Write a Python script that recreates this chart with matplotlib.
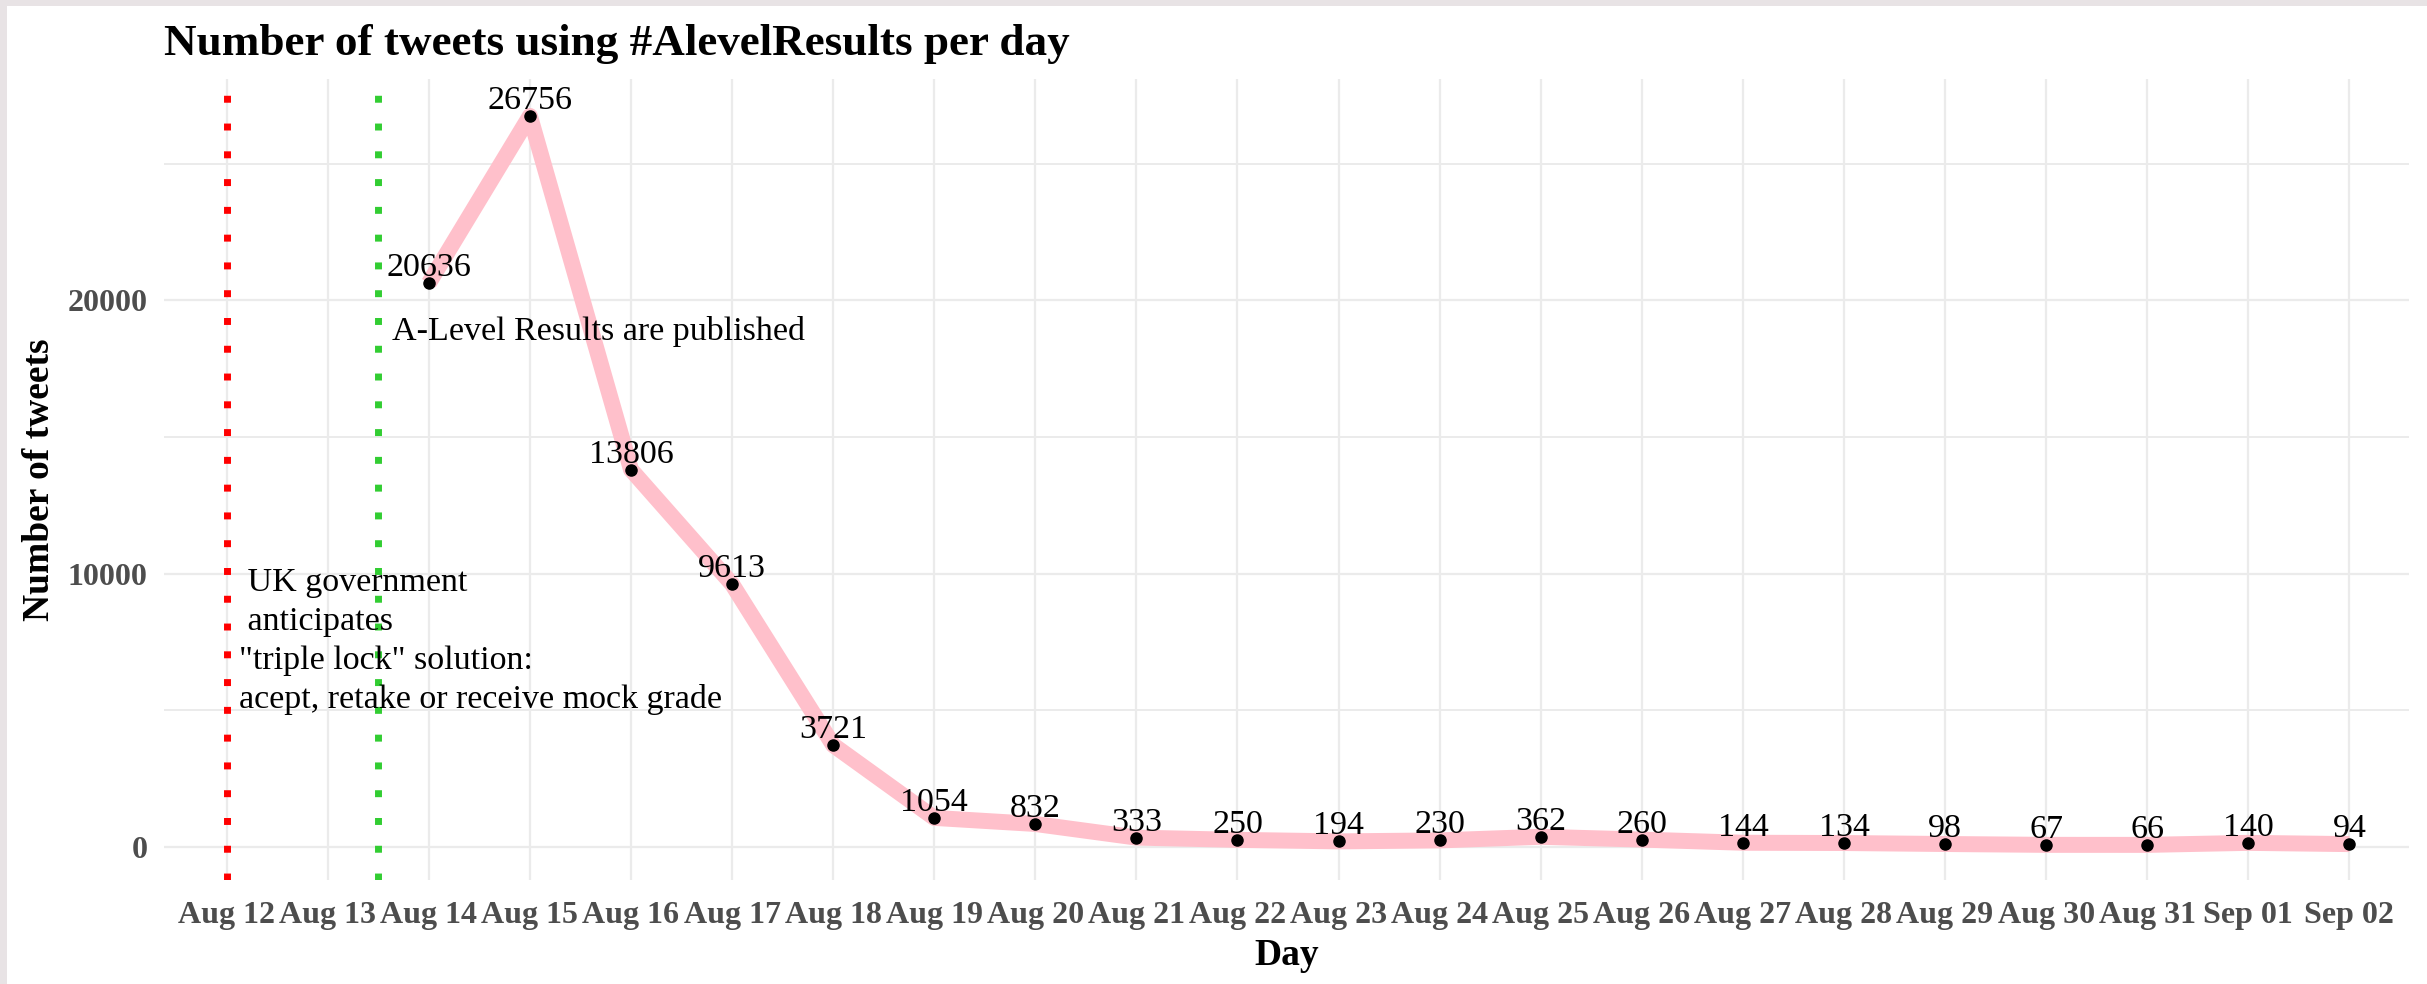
import numpy as np
import matplotlib
matplotlib.use('Agg')
import matplotlib.pyplot as plt
import matplotlib.dates as mdates
from matplotlib.patches import Rectangle
from matplotlib.ticker import MultipleLocator

plt.rcParams['font.family'] = ['Liberation Serif', 'DejaVu Serif']

# data
tanggal = np.arange(np.datetime64('2020-08-14'), np.datetime64('2020-09-03'))
tweets = [20636, 26756, 13806, 9613, 3721, 1054, 832, 333, 250, 194,
          230, 362, 260, 144, 134, 98, 67, 66, 140, 94]
tickHari = np.arange(np.datetime64('2020-08-12'), np.datetime64('2020-09-03'))
labelHari = ['Aug 12', 'Aug 13', 'Aug 14', 'Aug 15', 'Aug 16', 'Aug 17', 'Aug 18',
             'Aug 19', 'Aug 20', 'Aug 21', 'Aug 22', 'Aug 23', 'Aug 24', 'Aug 25',
             'Aug 26', 'Aug 27', 'Aug 28', 'Aug 29', 'Aug 30', 'Aug 31', 'Sep 01', 'Sep 02']
garisMerah = np.datetime64('2020-08-12')
garisHijau = np.datetime64('2020-08-13T12:00')
judulDiagram = 'Number of tweets using #AlevelResults per day'
sumbuX = 'Day'
sumbuY = 'Number of tweets'
teksHijau = 'A-Level Results are published'
teksMerah = ' UK government\n anticipates\n"triple lock" solution:\nacept, retake or receive mock grade'

W, H = 2427, 984
fig = plt.figure(figsize=(W / 100, H / 100), dpi=100)
fig.patch.set_facecolor('#e8e3e5')
fig.patches.append(Rectangle((7 / W, 0), 1, 1 - 6 / H, transform=fig.transFigure,
                             facecolor='white', edgecolor='none', zorder=-10))

L, R, T, B = 164, 2409, 79, 880
ax = fig.add_axes([L / W, 1 - B / H, (R - L) / W, (B - T) / H])
ax.set_zorder(1)
ax.set_facecolor('white')

x = mdates.date2num(tanggal)
ax.plot(x, tweets, color='pink', lw=11.5, solid_capstyle='butt', zorder=3)
ax.plot(x, tweets, 'o', color='black', ms=8, zorder=4)

ax.axvline(mdates.date2num(garisMerah), color='red', lw=5, dashes=(1, 3), zorder=2)
ax.axvline(mdates.date2num(garisHijau), color='limegreen', lw=5, dashes=(1, 3), zorder=2)

# labels for points
for xi, v in zip(x, tweets):
    ax.annotate(str(v), (xi, v), xytext=(0, 5), textcoords='offset points',
                ha='center', va='baseline', fontsize=24.5, zorder=5)

x0 = mdates.date2num(garisMerah)
ax.text(x0 + 1.635, 18550, teksHijau, fontsize=24.5, ha='left', va='baseline', zorder=5)
ax.text(x0 + 0.12, 5080, teksMerah, fontsize=24.5, ha='left', va='baseline',
        linespacing=1.35, zorder=5)

# axes
ax.set_xlim(x0 - 0.62, x0 + 21.59)
ax.set_ylim(-1220, 28110)
ax.set_xticks(mdates.date2num(tickHari))
ax.set_xticklabels(labelHari)
ax.set_yticks([0, 10000, 20000])
ax.yaxis.set_minor_locator(MultipleLocator(5000))
ax.tick_params(axis='both', which='both', length=0)
ax.tick_params(axis='x', pad=15, labelsize=23)
ax.tick_params(axis='y', pad=12, labelsize=23)
for lab in ax.get_xticklabels() + ax.get_yticklabels():
    lab.set_fontweight('bold')
    lab.set_color('#4d4d4d')

ax.grid(True, which='major', color='#ebebeb', lw=1.6, zorder=0)
ax.grid(True, which='minor', axis='y', color='#ebebeb', lw=1.4, zorder=0)
ax.set_axisbelow(True)
for s in ax.spines.values():
    s.set_visible(False)

ax.set_title(judulDiagram, loc='left', fontsize=32.5, fontweight='bold', pad=17)
ax.set_xlabel(sumbuX, fontsize=27, fontweight='bold')
ax.xaxis.set_label_coords(0.5, (B - 965) / (B - T))
ax.xaxis.label.set_verticalalignment('baseline')
ax.set_ylabel(sumbuY, fontsize=27, fontweight='bold')
ax.yaxis.set_label_coords((40 - L) / (R - L), 0.5)
ax.yaxis.label.set_verticalalignment('center')

plt.savefig('out.png', dpi=100, facecolor=fig.get_facecolor())
plt.close(fig)
